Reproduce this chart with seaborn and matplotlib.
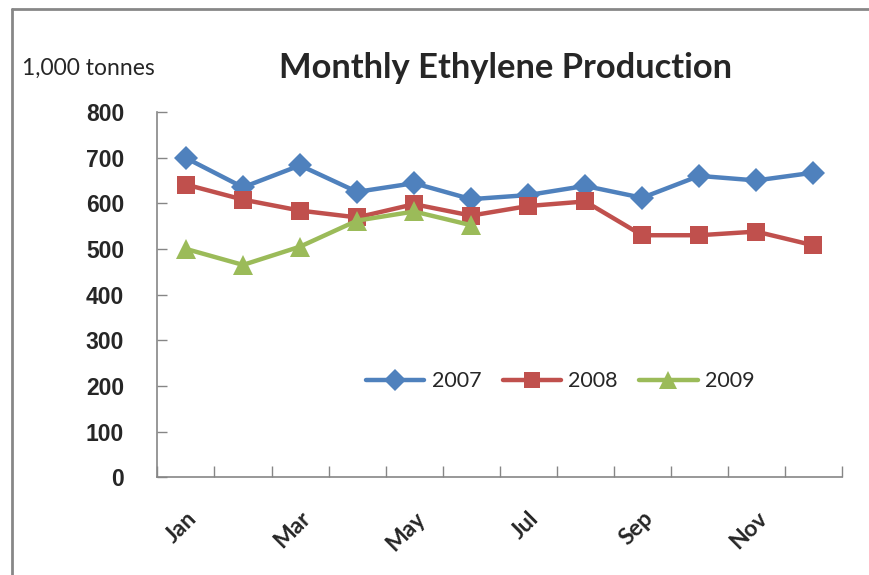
import numpy as np
import pandas as pd
import seaborn as sns
import matplotlib.pyplot as plt
from matplotlib.lines import Line2D

# data (1,000 tonnes)
months = ['Jan', 'Feb', 'Mar', 'Apr', 'May', 'Jun',
          'Jul', 'Aug', 'Sep', 'Oct', 'Nov', 'Dec']
prod_2007 = [699, 635, 683, 625, 644, 609, 618, 638, 612, 660, 650, 667]
prod_2008 = [641, 608, 584, 569, 598, 573, 594, 604, 530, 530, 538, 508]
prod_2009 = [500, 465, 505, 562, 582, 552, np.nan, np.nan, np.nan, np.nan, np.nan, np.nan]
years = ['2007', '2008', '2009']
colors = {'2007': '#4F81BD', '2008': '#C0504D', '2009': '#9BBB59'}
markers = {'2007': 'D', '2008': 's', '2009': '^'}
msizes = {'2007': 12, '2008': 13, '2009': 14}


def main():
  sns.set_style('white')
  plt.rcParams['font.family'] = ['Liberation Sans', 'DejaVu Sans']

  rows = []
  for yr, vals in zip(years, [prod_2007, prod_2008, prod_2009]):
    for i, v in enumerate(vals):
      rows.append({'month': i, 'year': yr, 'value': v})
  df = pd.DataFrame(rows).dropna()

  fig = plt.figure(figsize=(8.7, 5.75), dpi=100)
  ax = fig.add_axes([0.181, 0.170, 0.7865, 0.6353])

  for yr in years:
    sub = df[df['year'] == yr]
    sns.lineplot(data=sub, x='month', y='value', ax=ax, color=colors[yr],
                 marker=markers[yr], markersize=msizes[yr], linewidth=3.2,
                 markeredgewidth=0, label=yr, legend=False)

  ax.set_xlim(-0.5, 11.5)
  ax.set_ylim(0, 800)
  ax.set_yticks(range(0, 801, 100))
  ax.set_xticks(range(0, 12, 2))
  ax.set_xticklabels(months[::2], rotation=45, ha='right', rotation_mode='anchor',
                     fontweight='bold', fontsize=16.5, family=['Lato', 'DejaVu Sans'])
  ax.set_xticks(np.arange(-0.5, 12, 1), minor=True)
  ax.tick_params(bottom=True, left=True, which='both')
  ax.tick_params(axis='x', which='major', length=0, pad=22)
  ax.tick_params(axis='x', which='minor', direction='in', length=8, width=1, color='#868686')
  ax.tick_params(axis='y', which='major', direction='in', length=7, width=1,
                 color='#868686', pad=24, labelsize=16.5)
  for lab in ax.get_yticklabels():
    lab.set_fontweight('bold')
  ax.set_xlabel('')
  ax.set_ylabel('')
  sns.despine(ax=ax)
  for s in ['left', 'bottom']:
    ax.spines[s].set_color('#868686')
    ax.spines[s].set_linewidth(1.2)

  fig.text(0.5816, 0.881, 'Monthly Ethylene Production', ha='center', va='center',
           fontsize=24.8, fontweight='bold', family=['Lato', 'DejaVu Sans'])
  fig.text(0.025, 0.881, '1,000 tonnes', ha='left', va='center',
           fontsize=16.5, family=['Lato', 'DejaVu Sans'])

  handles = [Line2D([], [], color=colors[y], marker=markers[y], markersize=msizes[y] - 1,
                    linewidth=3.2, markeredgewidth=0) for y in years]
  ax.legend(handles, years, loc='center', ncol=3, frameon=False,
            bbox_to_anchor=(0.644, 0.337), bbox_transform=fig.transFigure,
            handlelength=2.7, columnspacing=1.0, handletextpad=0.35,
            prop={'family': ['Lato', 'DejaVu Sans'], 'size': 15.5})

  # chart area border (left and top edges visible)
  fig.add_artist(Line2D([0.014, 0.014], [0.0, 0.984], transform=fig.transFigure,
                        color='#878787', linewidth=2))
  fig.add_artist(Line2D([0.014, 1.0], [0.984, 0.984], transform=fig.transFigure,
                        color='#878787', linewidth=2))

  fig.savefig('out.png', dpi=100)


if __name__ == '__main__':
  main()
